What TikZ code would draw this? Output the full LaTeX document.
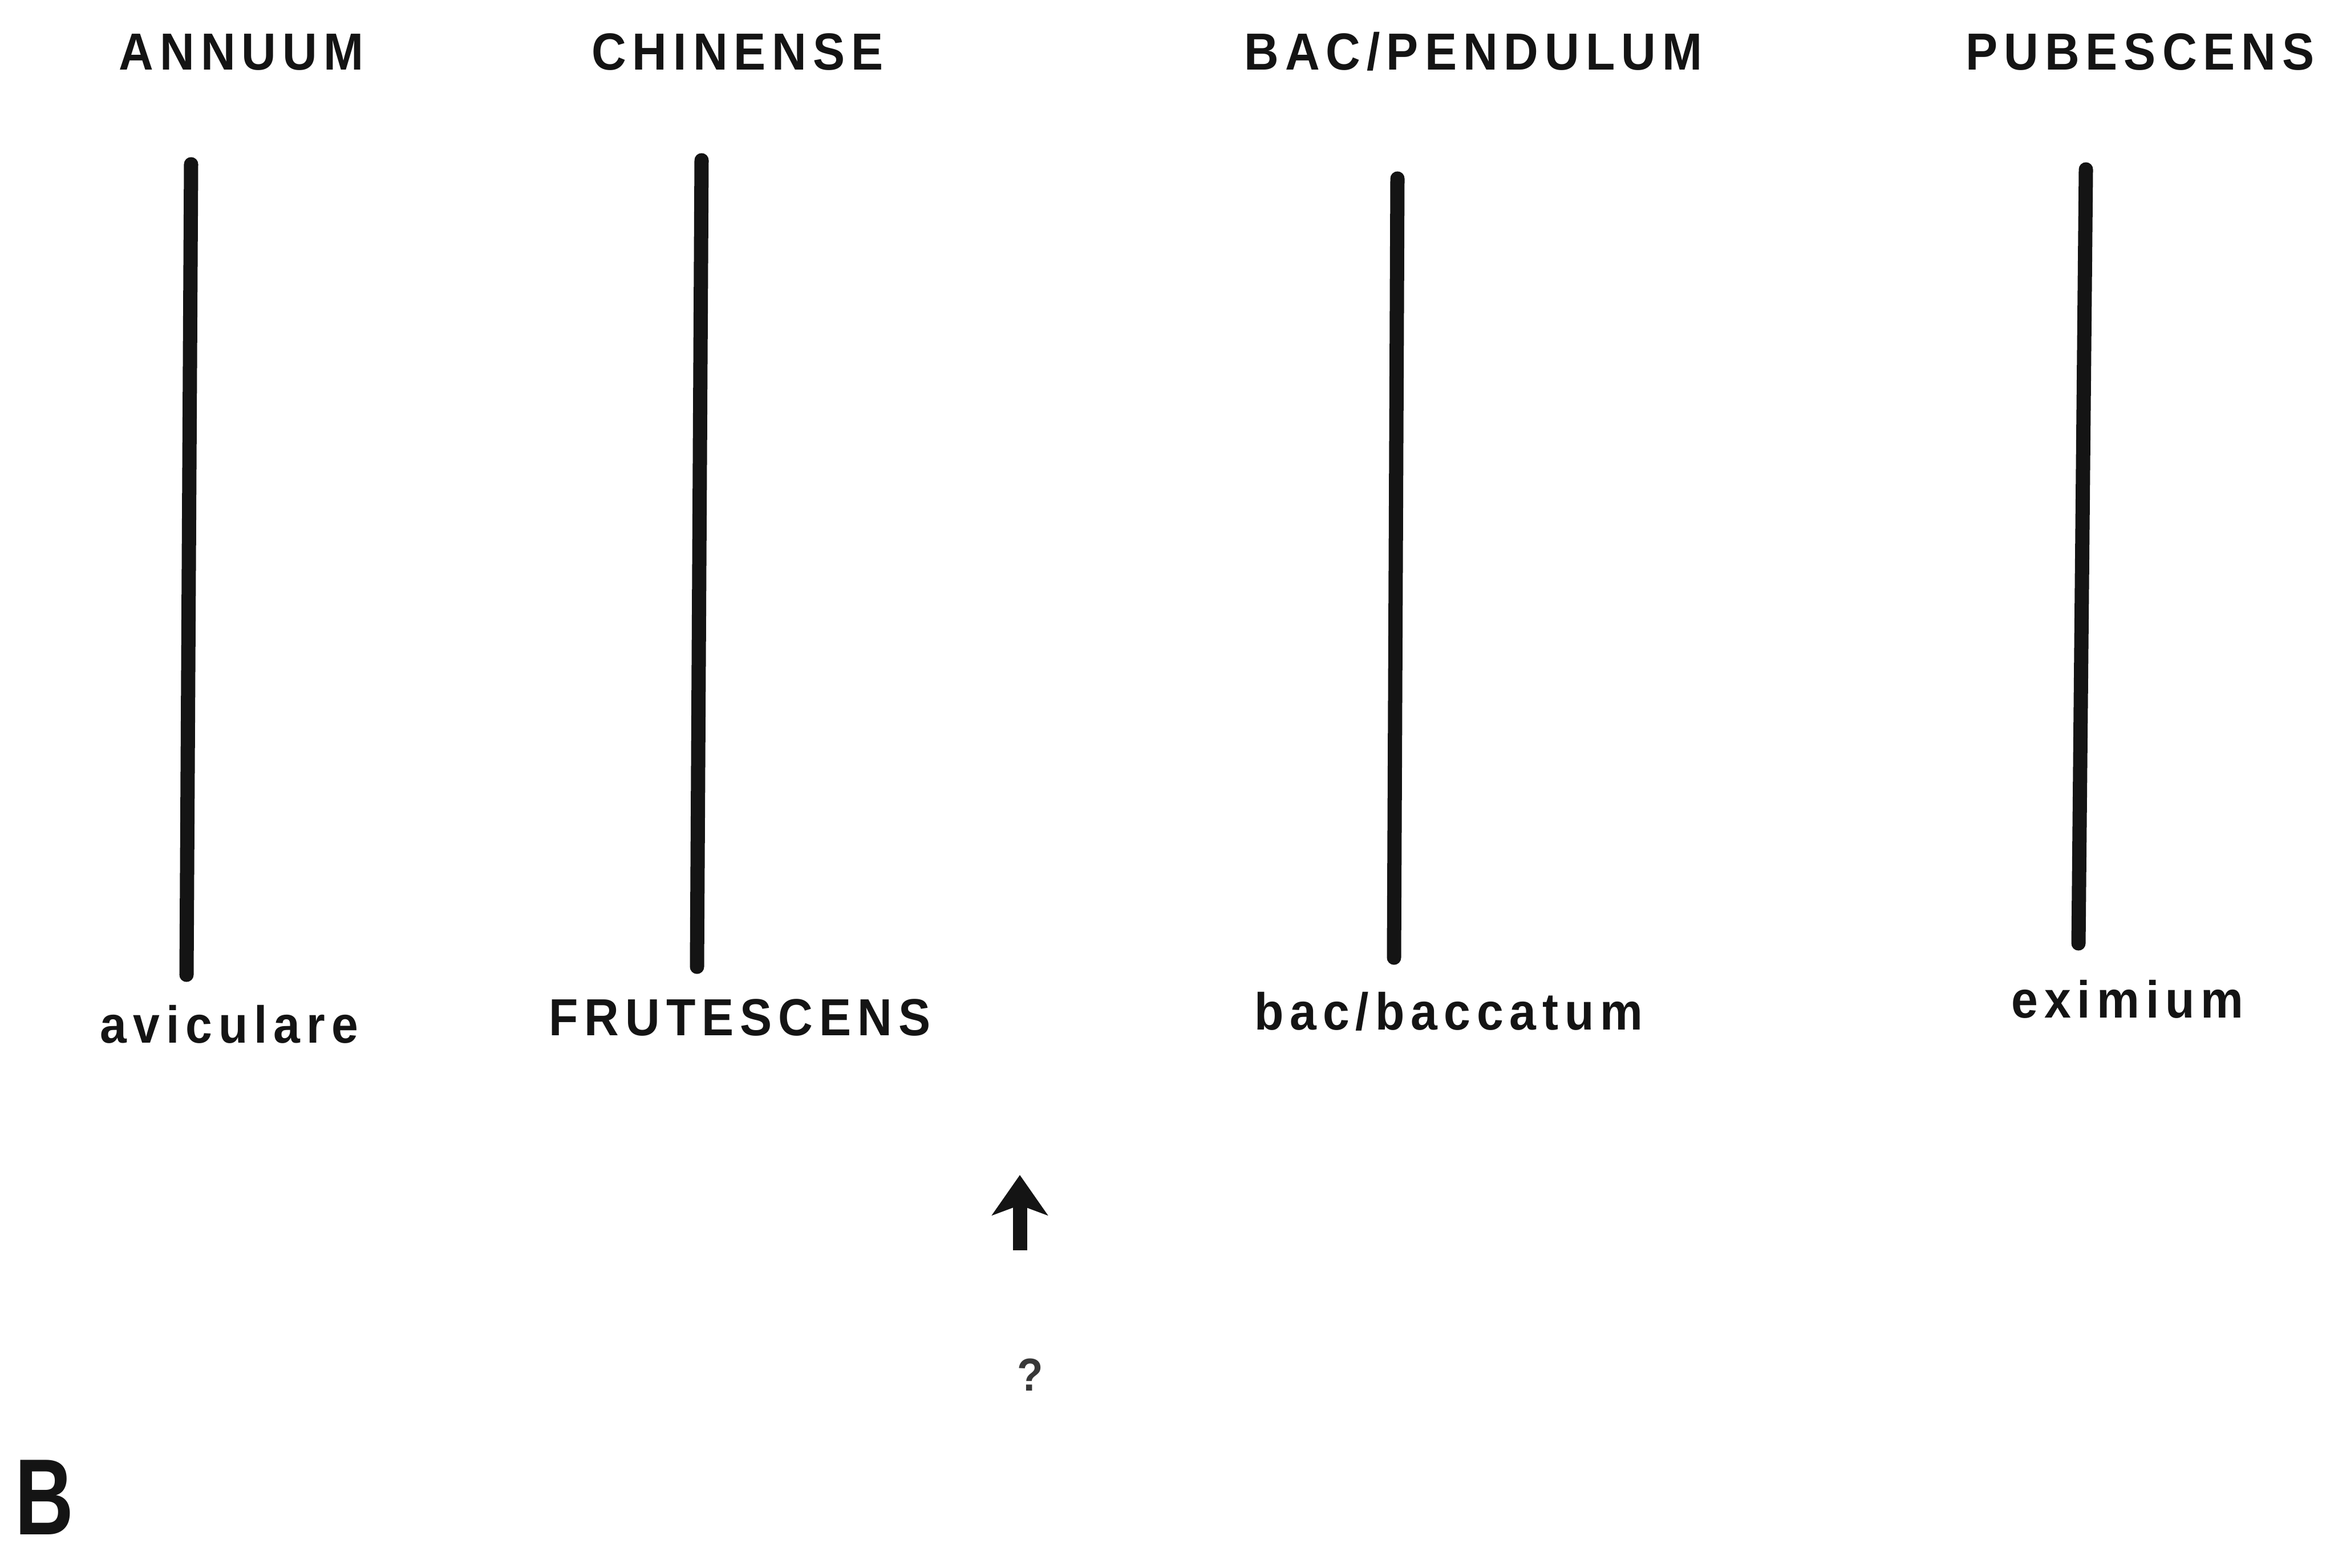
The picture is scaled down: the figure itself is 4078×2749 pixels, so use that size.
\documentclass[tikz,border=0pt]{standalone}
\usepackage{fontspec}
\usetikzlibrary{arrows.meta}
% Narrow, tracked bold sans for the labels, and a larger one for the panel letter
\newfontfamily\labfont[FakeStretch=0.92,LetterSpace=12]{Liberation Sans}
\newfontfamily\panelfont[FakeStretch=0.75]{Liberation Sans}
\definecolor{ink}{gray}{0.08}
\tikzset{
  lbl/.style={font=\labfont\bfseries\fontsize{26}{31}\selectfont, inner sep=0pt, anchor=base, text=ink},
  stem/.style={line width=0.25cm, line cap=round, draw=ink},
}
\begin{document}
\begin{tikzpicture}[x=0.01cm, y=-0.01cm]
  \fill[white] (0,0) rectangle (4078,2749);
  \useasboundingbox (0,0) rectangle (4078,2749);

  % species names along the top
  \node[lbl] (annuum)    at (423,123)  {ANNUUM};
  \node[lbl] (chinense)  at (1293,123) {CHINENSE};
  \node[lbl] (bacpend)   at (2583,123) {BAC/PENDULUM};
  \node[lbl] (pubescens) at (3752,123) {PUBESCENS};

  % names at the foot of each line
  \node[lbl] (aviculare)  at (402,1828)  {aviculare};
  \node[lbl] (frutescens) at (1297,1815) {FRUTESCENS};
  \node[lbl] (baccatum)   at (2540,1805) {bac/baccatum};
  \node[lbl] (eximium)    at (3730,1784) {eximium};

  % end points of the vertical lines
  \coordinate (a1) at (335,288);  \coordinate (a2) at (327,1709);
  \coordinate (c1) at (1230,281); \coordinate (c2) at (1222,1695);
  \coordinate (b1) at (2450,313); \coordinate (b2) at (2444,1679);
  \coordinate (p1) at (3657,297); \coordinate (p2) at (3644,1654);

  \draw[stem] (a1) -- (a2);
  \draw[stem] (c1) -- (c2);
  \draw[stem] (b1) -- (b2);
  \draw[stem] (p1) -- (p2);

  % arrow pointing up, with the query below it
  \coordinate (arrTail) at (1788,2192);
  \coordinate (arrTip)  at (1788,2060);
  \draw[draw=ink, line width=0.25cm,
        -{Stealth[length=20pt, width=27.6pt, inset=5pt, fill=ink]}]
        (arrTail) -- (arrTip);
  \node[lbl, font=\labfont\bfseries\fontsize{23}{28}\selectfont, text=ink!85] (query) at (1806,2438) {?};

  % panel letter
  \node[inner sep=0pt, anchor=base west, text=ink,
        font=\panelfont\bfseries\fontsize{54}{60}\selectfont] (panel) at (26,2690) {B};
\end{tikzpicture}
\end{document}
